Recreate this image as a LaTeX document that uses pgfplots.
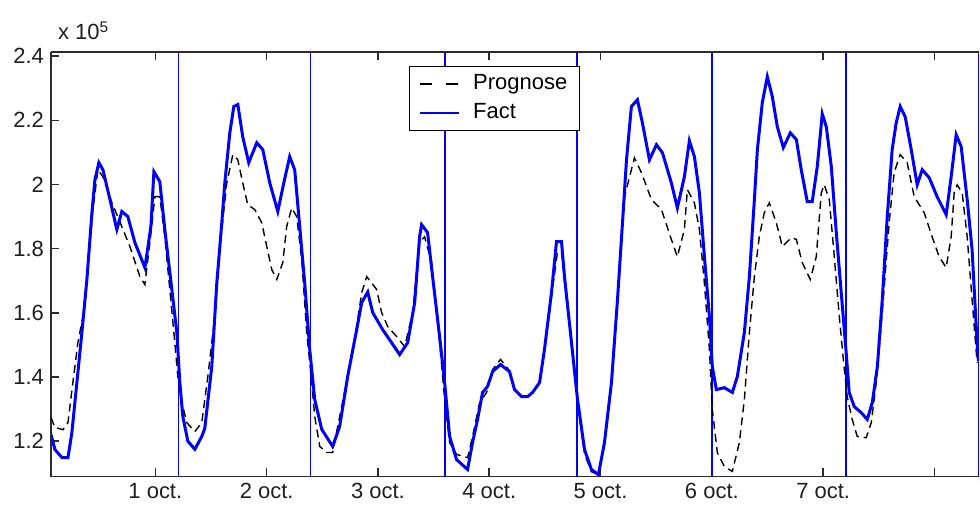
\documentclass[border=0pt]{standalone}
\usepackage{pgfplots}
\pgfplotsset{compat=1.18}
\usepackage{fontspec}
\setmainfont{Liberation Sans}
\definecolor{mblue}{RGB}{0,0,255}
\definecolor{axgray}{HTML}{2B2B2B}

\begin{document}
\begin{tikzpicture}
\begin{axis}[
    scale only axis, width=464.5pt, height=212.5pt,
    xmin=0.062, xmax=8.401, ymin=1.09, ymax=2.413,
    axis x line*=box, axis y line*=left,
    xtick={1,2,3,4,5,6,7,8},
    xticklabels={1 oct.,2 oct.,3 oct.,4 oct.,5 oct.,6 oct.,7 oct.,{}},
    ytick={1.2,1.4,1.6,1.8,2,2.2,2.4},
    yticklabel style={/pgf/number format/fixed,
                      /pgf/number format/precision=1},
    /pgf/number format/assume math mode=true,
    tick align=inside, major tick length=4.25pt,
    tick style={axgray, line width=0.8pt},
    axis line style={axgray, line width=0.9pt},
    ticklabel style={font=\fontsize{11}{13}\selectfont, text=black!88},
    legend style={at={(0.386,0.967)}, anchor=north west,
                  draw=black, line width=0.6pt, fill=white,
                  font=\fontsize{11}{13}\selectfont,
                  inner xsep=4.5pt, inner ysep=2pt, row sep=1pt,
                  /tikz/column sep=5pt,
                  nodes={inner sep=1.5pt, text height=8pt, text depth=2.5pt},
                  cells={anchor=west}},
  ]
  % day boundaries
  \addplot[ycomb, mblue, line width=0.75pt, mark=none, forget plot]
      coordinates {(1.208,2.41) (2.393,2.41) (3.601,2.41) (4.790,2.41)
                   (6.003,2.41) (7.205,2.41) (8.395,2.41)};

  \addplot[black, line width=0.7pt, dash pattern=on 4pt off 2.5pt, mark=none,
           legend image code/.code={\draw[black, line width=0.7pt,
              dash pattern=on 6pt off 7.5pt] (0pt,0pt) -- (20pt,0pt);}]
      coordinates {
      (0.062,1.274) (0.098,1.243) (0.170,1.236) (0.215,1.258) (0.259,1.383)
      (0.304,1.507) (0.349,1.589) (0.394,1.745) (0.439,1.922) (0.484,2.046)
      (0.529,2.024) (0.610,1.943) (0.681,1.884) (0.771,1.807) (0.861,1.713)
      (0.906,1.688) (0.951,1.819) (0.996,1.962) (1.040,1.962) (1.085,1.837)
      (1.130,1.673) (1.175,1.507) (1.202,1.402) (1.238,1.320) (1.283,1.258)
      (1.355,1.230) (1.417,1.258) (1.471,1.400) (1.534,1.589) (1.597,1.860)
      (1.642,2.005) (1.696,2.093) (1.741,2.077) (1.785,2.005) (1.830,1.937)
      (1.893,1.922) (1.956,1.881) (2.001,1.807) (2.046,1.735) (2.091,1.704)
      (2.145,1.757) (2.180,1.869) (2.225,1.927) (2.270,1.900) (2.315,1.766)
      (2.360,1.539) (2.405,1.383) (2.432,1.277) (2.477,1.184) (2.540,1.165)
      (2.593,1.165) (2.638,1.246) (2.728,1.402) (2.809,1.558) (2.854,1.663)
      (2.899,1.713) (2.988,1.673) (3.033,1.601) (3.087,1.558) (3.168,1.526)
      (3.240,1.495) (3.312,1.601) (3.374,1.819) (3.419,1.837) (3.482,1.757)
      (3.554,1.507) (3.599,1.330) (3.644,1.196) (3.706,1.159) (3.805,1.149)
      (3.850,1.215) (3.913,1.320) (3.976,1.352) (4.030,1.423) (4.101,1.455)
      (4.182,1.420) (4.227,1.361) (4.290,1.339) (4.344,1.339) (4.389,1.352)
      (4.452,1.380) (4.496,1.480) (4.559,1.650) (4.613,1.790) (4.649,1.790)
      (4.676,1.700) (4.739,1.500) (4.793,1.320) (4.856,1.160) (4.918,1.105)
      (4.981,1.096) (5.035,1.196) (5.098,1.383) (5.152,1.641) (5.215,1.962)
      (5.304,2.083) (5.367,2.037) (5.457,1.953) (5.547,1.922) (5.636,1.829)
      (5.690,1.775) (5.753,1.860) (5.780,1.984) (5.843,1.943) (5.888,1.860)
      (5.933,1.693) (5.978,1.486) (6.004,1.299) (6.049,1.165) (6.112,1.121)
      (6.184,1.106) (6.247,1.196) (6.292,1.330) (6.337,1.539) (6.382,1.713)
      (6.426,1.837) (6.471,1.912) (6.516,1.943) (6.579,1.881) (6.633,1.807)
      (6.714,1.834) (6.759,1.829) (6.812,1.757) (6.884,1.704) (6.938,1.775)
      (6.983,1.974) (7.010,1.999) (7.055,1.953) (7.100,1.775) (7.145,1.589)
      (7.190,1.423) (7.216,1.339) (7.261,1.268) (7.306,1.215) (7.387,1.211)
      (7.432,1.258) (7.477,1.383) (7.531,1.601) (7.593,1.881) (7.638,2.037)
      (7.692,2.093) (7.755,2.068) (7.818,1.962) (7.908,1.912) (7.979,1.837)
      (8.042,1.775) (8.105,1.741) (8.150,1.837) (8.177,1.974) (8.204,1.999)
      (8.249,1.974) (8.294,1.837) (8.338,1.641) (8.383,1.445)};
  \addlegendentry{Prognose\hspace{10pt}}

  \addplot[mblue, line width=1.5pt, mark=none,
           legend image code/.code={\draw[mblue, line width=0.7pt]
              (0pt,0pt) -- (20pt,0pt);}]
      coordinates {
      (0.062,1.221) (0.098,1.174) (0.161,1.149) (0.215,1.149) (0.250,1.227)
      (0.295,1.383) (0.340,1.539) (0.385,1.704) (0.430,1.912) (0.457,2.015)
      (0.493,2.068) (0.529,2.046) (0.592,1.953) (0.654,1.860) (0.699,1.916)
      (0.753,1.900) (0.816,1.819) (0.906,1.741) (0.960,1.869) (0.987,2.040)
      (1.040,2.009) (1.085,1.860) (1.148,1.673) (1.193,1.539) (1.220,1.383)
      (1.247,1.277) (1.292,1.200) (1.355,1.175) (1.417,1.215) (1.444,1.240)
      (1.507,1.433) (1.552,1.693) (1.597,1.881) (1.624,2.005) (1.669,2.161)
      (1.705,2.243) (1.741,2.249) (1.785,2.149) (1.839,2.068) (1.911,2.130)
      (1.965,2.109) (2.028,2.005) (2.100,1.916) (2.154,2.005) (2.207,2.087)
      (2.252,2.046) (2.297,1.869) (2.342,1.693) (2.387,1.486) (2.432,1.330)
      (2.495,1.237) (2.593,1.184) (2.656,1.246) (2.728,1.402) (2.809,1.548)
      (2.854,1.632) (2.908,1.665) (2.953,1.601) (3.042,1.548) (3.123,1.507)
      (3.195,1.470) (3.267,1.507) (3.330,1.632) (3.374,1.837) (3.392,1.875)
      (3.446,1.850) (3.491,1.713) (3.554,1.526) (3.599,1.383) (3.644,1.215)
      (3.706,1.143) (3.805,1.112) (3.850,1.196) (3.895,1.268) (3.940,1.352)
      (3.985,1.371) (4.030,1.417) (4.101,1.439) (4.182,1.417) (4.227,1.361)
      (4.290,1.339) (4.344,1.339) (4.389,1.352) (4.452,1.383) (4.496,1.486)
      (4.559,1.663) (4.604,1.822) (4.649,1.822) (4.676,1.713) (4.739,1.507)
      (4.793,1.330) (4.856,1.174) (4.918,1.112) (4.981,1.096) (5.035,1.196)
      (5.098,1.383) (5.152,1.641) (5.197,1.881) (5.233,2.077) (5.277,2.243)
      (5.331,2.264) (5.376,2.192) (5.439,2.077) (5.502,2.124) (5.556,2.099)
      (5.636,2.005) (5.690,1.927) (5.753,2.024) (5.798,2.136) (5.843,2.087)
      (5.888,1.974) (5.933,1.775) (5.978,1.589) (6.004,1.433) (6.040,1.361)
      (6.112,1.367) (6.184,1.352) (6.229,1.402) (6.292,1.539) (6.337,1.713)
      (6.382,1.953) (6.409,2.109) (6.453,2.255) (6.498,2.336) (6.543,2.274)
      (6.588,2.180) (6.642,2.115) (6.705,2.161) (6.759,2.140) (6.803,2.046)
      (6.857,1.947) (6.902,1.947) (6.947,2.056) (6.992,2.220) (7.028,2.180)
      (7.073,2.056) (7.118,1.850) (7.163,1.660) (7.207,1.475) (7.234,1.352)
      (7.279,1.308) (7.342,1.289) (7.396,1.268) (7.441,1.320) (7.487,1.433)
      (7.531,1.641) (7.576,1.900) (7.620,2.109) (7.656,2.192) (7.692,2.243)
      (7.737,2.211) (7.791,2.109) (7.845,1.999) (7.890,2.046) (7.953,2.021)
      (8.024,1.962) (8.105,1.906) (8.150,2.024) (8.195,2.155) (8.240,2.118)
      (8.294,1.953) (8.338,1.797) (8.383,1.507) (8.395,1.450)};
  \addlegendentry{Fact}
\end{axis}
\node[anchor=base west, font=\fontsize{11}{13}\selectfont, text=black!88]
    at ([yshift=6pt]current axis.north west) {x 10\textsuperscript{5}};
\path[use as bounding box] ([xshift=-25.5pt,yshift=-14pt]current axis.south west)
    rectangle ([yshift=26pt]current axis.north east);
\end{tikzpicture}
\end{document}
